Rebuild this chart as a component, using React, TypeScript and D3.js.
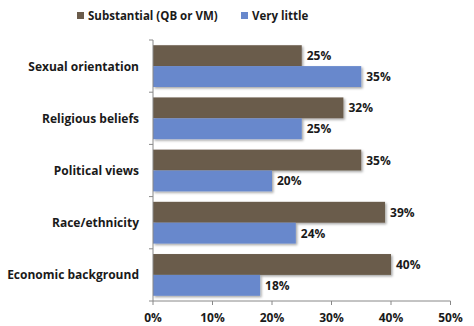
import React from "react";
import * as d3 from "d3";

const categories = ["Sexual orientation", "Religious beliefs", "Political views", "Race/ethnicity", "Economic background"];
const seriesNames = ["Substantial (QB or VM)", "Very little"];
const substantial = [25, 32, 35, 39, 40];
const veryLittle = [35, 25, 20, 24, 18];
const xTicks = [0, 10, 20, 30, 40, 50];
const colors = ["#6b5c4c", "#6888cc"];

const W = 474, H = 326;
const left = 153, right = 450.5, top = 40, bottom = 301;
const font = "'Open Sans', 'Liberation Sans', sans-serif";

export default function App() {
  const x = d3.scaleLinear().domain([0, 50]).range([left, right]);
  const y = d3.scaleBand<string>().domain(categories).range([top, bottom]).paddingInner(0).paddingOuter(0);
  const inner = d3.scaleBand<number>().domain([0, 1]).range([0, y.bandwidth()]).paddingOuter(0.25).paddingInner(0);
  const series = [substantial, veryLittle];
  const boundaries = d3.range(categories.length + 1).map((i) => top + i * y.step());
  return (
    <svg width={W} height={H} style={{ position: "absolute", left: 0, top: 0, background: "#fff" }} fontFamily={font}>
      <defs>
        <filter id="sh" x="-5%" y="-20%" width="115%" height="160%">
          <feDropShadow dx="1.5" dy="1.5" stdDeviation="0.8" floodColor="#000" floodOpacity="0.35" />
        </filter>
      </defs>
      {seriesNames.map((n, i) => {
        const lx = i === 0 ? 77 : 241;
        return (
          <g key={n}>
            <rect x={lx} y={12} width={7} height={7} fill={colors[i]} />
            <text x={lx + 11} y={19.5} fontSize={11.5} fontWeight="bold" fill="#1a1a1a">{n}</text>
          </g>
        );
      })}
      {categories.map((c, ci) => (
        <g key={c}>
          {series.map((s, si) => {
            const by = (y(c) as number) + (inner(si) as number);
            const bh = inner.bandwidth();
            return (
              <g key={si}>
                <rect x={x(0)} y={by} width={x(s[ci]) - x(0)} height={bh} fill={colors[si]} filter="url(#sh)" />
                <text x={x(s[ci]) + 5} y={by + bh / 2 + 4.5} fontSize={12} fontWeight="bold" fill="#1a1a1a">{s[ci]}%</text>
              </g>
            );
          })}
          <text x={139} y={(y(c) as number) + y.bandwidth() / 2 + 4.5} textAnchor="end" fontSize={12} fontWeight="bold" fill="#1a1a1a">{c}</text>
        </g>
      ))}
      <line x1={left} x2={left} y1={top} y2={bottom} stroke="#888" strokeWidth={1} />
      {boundaries.map((b, i) => (
        <line key={i} x1={left - 4} x2={left} y1={b} y2={b} stroke="#888" />
      ))}
      <line x1={left} x2={right} y1={bottom} y2={bottom} stroke="#888" />
      {xTicks.map((t) => (
        <g key={t}>
          <line x1={x(t)} x2={x(t)} y1={bottom} y2={bottom + 4} stroke="#888" />
          <text x={x(t)} y={321.5} textAnchor="middle" fontSize={12} fontWeight="bold" fill="#1a1a1a">{t}%</text>
        </g>
      ))}
    </svg>
  );
}
